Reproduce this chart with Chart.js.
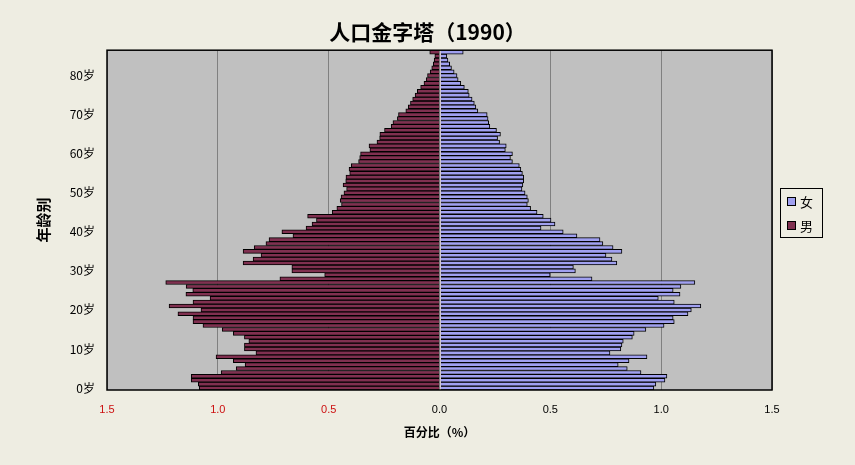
<!DOCTYPE html>
<html>
<head>
<meta charset="utf-8">
<script src="https://cdn.jsdelivr.net/npm/chart.js@4.4.1/dist/chart.umd.min.js"></script>
<style>
  html, body { margin: 0; padding: 0; background: #eeede2; }
  #wrap { width: 855px; height: 465px; position: relative; }
</style>
</head>
<body>
<div id="wrap"><canvas id="chart"></canvas></div>
<script>
// ages 0..86, one bar each
const ages = [0,1,2,3,4,5,6,7,8,9,10,11,12,13,14,15,16,17,18,19,20,21,22,23,24,25,26,27,28,29,
  30,31,32,33,34,35,36,37,38,39,40,41,42,43,44,45,46,47,48,49,50,51,52,53,54,55,56,57,58,59,
  60,61,62,63,64,65,66,67,68,69,70,71,72,73,74,75,76,77,78,79,80,81,82,83,84,85,86];

// percent of population (age 0 first)
const male = [1.084,1.088,1.12,1.12,0.985,0.917,0.877,0.93,1.008,0.828,
  0.88,0.88,0.86,0.88,0.93,0.98,1.067,1.112,1.112,1.18,
  1.076,1.22,1.112,1.035,1.144,1.113,1.143,1.235,0.72,0.518,
  0.666,0.666,0.886,0.841,0.805,0.886,0.836,0.783,0.769,0.661,
  0.711,0.602,0.575,0.555,0.595,0.484,0.463,0.442,0.448,0.444,
  0.431,0.419,0.435,0.423,0.422,0.405,0.408,0.398,0.365,0.36,
  0.356,0.314,0.318,0.282,0.27,0.269,0.248,0.218,0.21,0.19,
  0.185,0.152,0.141,0.131,0.121,0.11,0.10,0.085,0.07,0.06,
  0.054,0.042,0.035,0.028,0.024,0.021,0.044];

const female = [0.967,0.976,1.017,1.026,0.909,0.847,0.806,0.855,0.936,0.769,
  0.818,0.823,0.829,0.87,0.878,0.931,1.013,1.059,1.054,1.121,
  1.136,1.179,1.059,0.987,1.085,1.054,1.089,1.152,0.688,0.499,
  0.613,0.604,0.8,0.778,0.751,0.823,0.783,0.737,0.724,0.62,
  0.558,0.458,0.521,0.503,0.468,0.44,0.411,0.396,0.401,0.396,
  0.386,0.372,0.376,0.38,0.38,0.374,0.367,0.36,0.329,0.32,
  0.329,0.297,0.301,0.271,0.262,0.275,0.257,0.227,0.222,0.219,
  0.215,0.173,0.164,0.157,0.147,0.134,0.13,0.112,0.096,0.084,
  0.079,0.066,0.054,0.046,0.038,0.033,0.107];

const tickAges = [0,10,20,30,40,50,60,70,80];
const tickLabels = ['0岁','10岁','20岁','30岁','40岁','50岁','60岁','70岁','80岁'];

const BG = '#eeede2';
const CJK = '"Noto Sans CJK SC", sans-serif';

// grey plot area, frame, light zero line and the boxed legend
const frame = {
  id: 'frame',
  beforeDraw(chart) {
    const { ctx, chartArea: a } = chart;
    ctx.save();
    ctx.fillStyle = BG;
    ctx.fillRect(0, 0, chart.width, chart.height);
    ctx.fillStyle = '#c0c0c0';
    ctx.fillRect(a.left, a.top, a.right - a.left, a.bottom - a.top);
    ctx.restore();
  },
  afterDatasetsDraw(chart) {
    const { ctx, chartArea: a } = chart;
    const x0 = Math.round(chart.scales.x.getPixelForValue(0)) + 0.5;
    ctx.save();
    ctx.strokeStyle = '#cfc6cf';
    ctx.lineWidth = 1;
    ctx.beginPath();
    ctx.moveTo(x0, a.top);
    ctx.lineTo(x0, a.bottom);
    ctx.stroke();
    ctx.strokeStyle = '#000';
    ctx.lineWidth = 1.5;
    ctx.strokeRect(a.left, a.top, a.right - a.left, a.bottom - a.top);
    ctx.restore();
  },
  afterDraw(chart) {
    const ctx = chart.ctx;
    ctx.save();
    ctx.strokeStyle = '#000';
    ctx.lineWidth = 1;
    ctx.strokeRect(780.5, 188.5, 42, 49);
    ctx.font = '13px ' + CJK;
    ctx.textBaseline = 'middle';
    chart.data.datasets.forEach((ds, k) => {
      const y = 201 + k * 24;
      ctx.fillStyle = ds.backgroundColor;
      ctx.fillRect(787, y - 4, 8, 8);
      ctx.strokeRect(787.5, y - 3.5, 8, 8);
      ctx.fillStyle = '#000';
      ctx.fillText(ds.label, 800, y + 1);
    });
    ctx.restore();
  }
};

new Chart(document.getElementById('chart'), {
  type: 'bar',
  data: {
    labels: ages,
    datasets: [
      {
        label: '女',
        data: female,
        backgroundColor: '#a0a0f0',
        borderColor: '#000',
        borderWidth: 1
      },
      {
        label: '男',
        data: male.map(v => -v),
        backgroundColor: '#803050',
        borderColor: '#000',
        borderWidth: 1
      }
    ]
  },
  options: {
    indexAxis: 'y',
    responsive: true,
    maintainAspectRatio: false,
    animation: false,
    devicePixelRatio: 1,
    barPercentage: 1,
    categoryPercentage: 1,
    layout: { padding: { left: 0, right: 0, top: 0, bottom: 21 } },
    plugins: {
      legend: { display: false },
      tooltip: { enabled: false },
      title: {
        display: true,
        text: '人口金字塔（1990）',
        color: '#000',
        font: { family: CJK, size: 21, weight: 'bold' },
        padding: { top: 19, bottom: 6 }
      }
    },
    scales: {
      x: {
        stacked: true,
        min: -1.5,
        max: 1.5,
        afterFit(scale) { scale.height = 54; },
        grid: {
          color: '#808080',
          lineWidth: 1,
          drawTicks: false
        },
        border: { display: false },
        ticks: {
          stepSize: 0.5,
          padding: 13,
          font: { family: '"Liberation Sans", sans-serif', size: 11 },
          color: ctx => ctx.tick && ctx.tick.value < 0 ? '#cc1010' : '#000',
          callback: v => Math.abs(v).toFixed(1)
        },
        title: {
          display: true,
          text: '百分比（%）',
          color: '#000',
          font: { family: CJK, size: 12, weight: 'bold' },
          padding: { top: 9, bottom: 4 }
        }
      },
      y: {
        stacked: true,
        reverse: true,
        afterFit(scale) { scale.width = 107; },
        grid: { display: false, drawTicks: false },
        border: { display: false },
        ticks: {
          autoSkip: false,
          padding: 12,
          color: '#000',
          font: { family: CJK, size: 12 },
          callback(value) {
            const k = tickAges.indexOf(ages[value]);
            return k >= 0 ? tickLabels[k] : '';
          }
        },
        title: {
          display: true,
          text: '年龄别',
          color: '#000',
          font: { family: CJK, size: 15, weight: 'bold' },
          padding: { top: 34, bottom: 0 }
        }
      },
      spacer: {
        type: 'linear',
        position: 'right',
        display: true,
        afterFit(scale) { scale.width = 83; },
        grid: { display: false, drawTicks: false },
        border: { display: false },
        ticks: { display: false }
      }
    }
  },
  plugins: [frame]
});
</script>
</body>
</html>
